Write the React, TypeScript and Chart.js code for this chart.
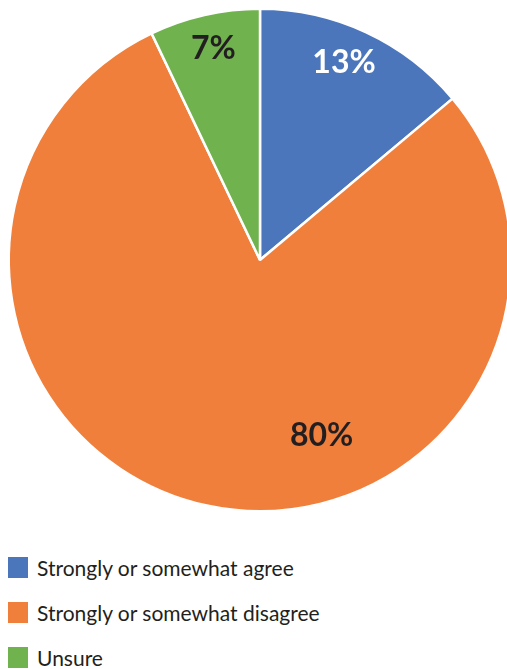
import React, { useEffect, useRef } from "react";
import { Chart, registerables } from "chart.js";

Chart.register(...registerables);

const categories = [
  "Strongly or somewhat agree",
  "Strongly or somewhat disagree",
  "Unsure",
];
const sliceValues = [13.9, 79.0, 7.1];
const labelTexts = ["13%", "80%", "7%"];
const sliceColors = ["#4b76bb", "#f17f3c", "#70b24e"];
const labelColors = ["#ffffff", "#231f20", "#231f20"];
const labelRadiusFrac = [0.855, 0.74, 0.86];
const labelAngleShiftDeg = [-2, -31.6, 0.3];

const labelPlugin = {
  id: "sliceLabels",
  afterDatasetsDraw(chart: any) {
    const ctx = chart.ctx;
    const meta = chart.getDatasetMeta(0);
    ctx.save();
    ctx.font = "bold 32px Lato";
    ctx.textAlign = "center";
    ctx.textBaseline = "middle";
    meta.data.forEach((arc: any, i: number) => {
      const p = arc.getProps(["startAngle", "endAngle", "outerRadius", "x", "y"], true);
      const a = (p.startAngle + p.endAngle) / 2 + (labelAngleShiftDeg[i] * Math.PI) / 180;
      const r = p.outerRadius * labelRadiusFrac[i];
      ctx.fillStyle = labelColors[i];
      ctx.fillText(labelTexts[i], p.x + Math.cos(a) * r, p.y + Math.sin(a) * r);
    });
    ctx.restore();
  },
};

export default function App() {
  const ref = useRef<HTMLCanvasElement>(null);
  useEffect(() => {
    if (!ref.current) return;
    const chart = new Chart(ref.current, {
      type: "pie",
      data: {
        labels: categories,
        datasets: [
          {
            data: sliceValues,
            backgroundColor: sliceColors,
            borderColor: "#ffffff",
            borderWidth: 2.5,
          },
        ],
      },
      options: {
        animation: false,
        responsive: false,
        layout: { padding: 7.5 },
        plugins: {
          legend: { display: false },
          tooltip: { enabled: false },
        },
      },
      plugins: [labelPlugin],
    });
    return () => chart.destroy();
  }, []);

  return (
    <div
      style={{
        position: "absolute",
        left: 0,
        top: 0,
        width: 507,
        height: 669,
        overflow: "hidden",
        background: "#ffffff",
      }}
    >
      <canvas
        ref={ref}
        width={520}
        height={520}
        style={{ position: "absolute", left: 0, top: 0, width: 520, height: 520 }}
      />
      <div style={{ position: "absolute", left: 8, top: 557 }}>
        {categories.map((c, i) => (
          <div
            key={c}
            style={{
              display: "flex",
              alignItems: "center",
              height: 21,
              marginBottom: 24,
            }}
          >
            <div style={{ width: 20, height: 21, background: sliceColors[i] }} />
            <span
              style={{
                marginLeft: 9,
                fontFamily: "Lato",
                fontSize: 21,
                color: "#231f20",
                lineHeight: "21px",
                whiteSpace: "nowrap",
              }}
            >
              {c}
            </span>
          </div>
        ))}
      </div>
    </div>
  );
}
